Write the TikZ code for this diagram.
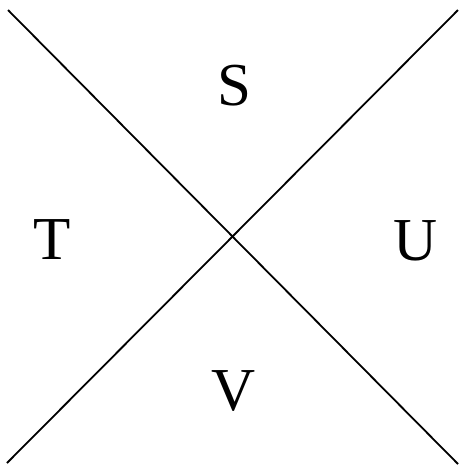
\documentclass[tikz,border=0pt]{standalone}
\usepackage{fontspec}
\setmainfont{Liberation Serif}
\begin{document}
\begin{tikzpicture}[x=1pt,y=-1pt,
  lbl/.style={font=\fontsize{61}{63}\selectfont, inner sep=0pt},
  ln/.style={line width=1.8pt}]
\useasboundingbox (0,0) rectangle (460,467);
\coordinate (tl) at (8,10);
\coordinate (br) at (458,464);
\coordinate (tr) at (458,10);
\coordinate (bl) at (7,463);
\draw[ln] (tl) -- (br);
\draw[ln] (tr) -- (bl);
\node[lbl] (S) at (234,86) {S};
\node[lbl] (T) at (52,240) {T};
\node[lbl] (U) at (416,241) {U};
\node[lbl] (V) at (234,391) {V};
\end{tikzpicture}
\end{document}
